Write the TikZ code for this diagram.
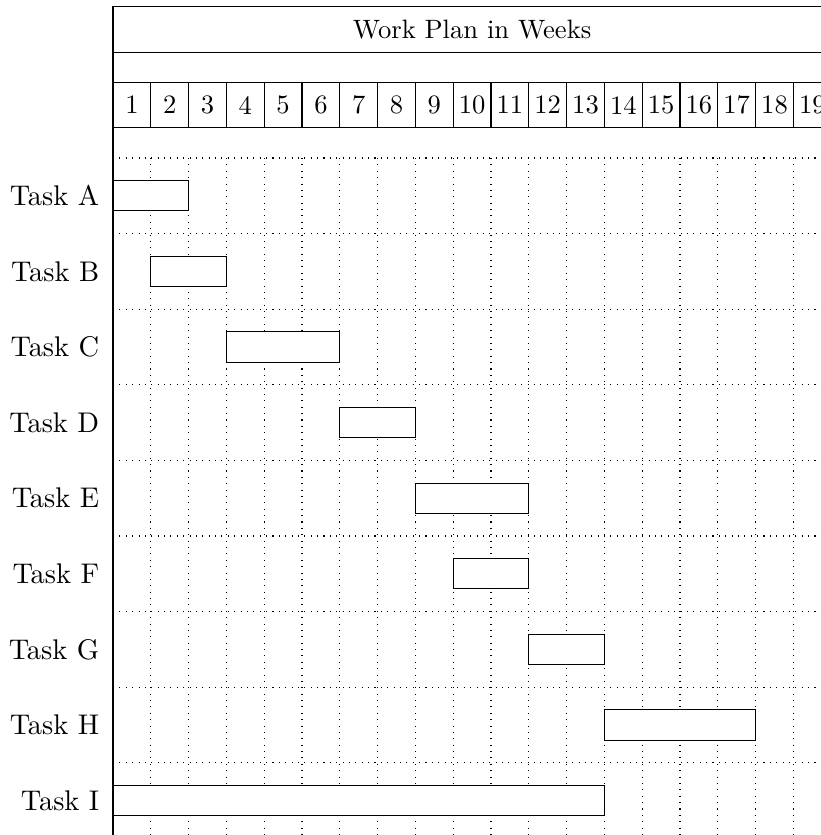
\documentclass[tikz,border=0pt]{standalone}
\begin{document}
\begin{tikzpicture}[
  gridline/.style={dotted, line width=0.4pt},
  frameline/.style={draw=black, line width=0.4pt},
  cellbox/.style={draw, minimum width=0.5cm, minimum height=0.6cm, inner sep=0pt, outer sep=0pt},
  titlebox/.style={draw, minimum width=9.5cm, minimum height=0.6cm, inner sep=0pt, outer sep=0pt},
  barbox/.style={draw, fill=white, minimum height=0.4cm, inner sep=0pt, outer sep=0pt, anchor=north west},
  tasklabel/.style={anchor=east, scale=1.07}
]
\useasboundingbox (-1.495,-8.955) rectangle (9.365,2.09);
% title row
\node[titlebox] (title) at (4.75,1.7) {Work Plan in Weeks};
% week numbers
\foreach \i in {1,...,19} {
  \node[cellbox] (w\i) at ({0.5*\i-0.25},0.7) {\i};
}
% grid
\foreach \r in {0,...,8} {
  \draw[gridline] (0,-\r) -- (9.5,-\r);
}
\foreach \c in {1,...,19} {
  \draw[gridline] ({0.5*\c},0) -- ({0.5*\c},-9);
}
% left frame line
\draw[frameline] (0,2.0) -- (0,-9);
% tasks
\foreach \n/\s/\w [count=\r from 0] in {A/0/1, B/0.5/1, C/1.5/1.5, D/3/1, E/4/1.5, F/4.5/1, G/5.5/1, H/6.5/2, I/0/6.5} {
  \node[tasklabel] (lab\n) at (-0.05,{-\r-0.5}) {Task \n};
  \node[barbox, minimum width=\w cm] (bar\n) at (\s,{-\r-0.3}) {};
}
\end{tikzpicture}
\end{document}
